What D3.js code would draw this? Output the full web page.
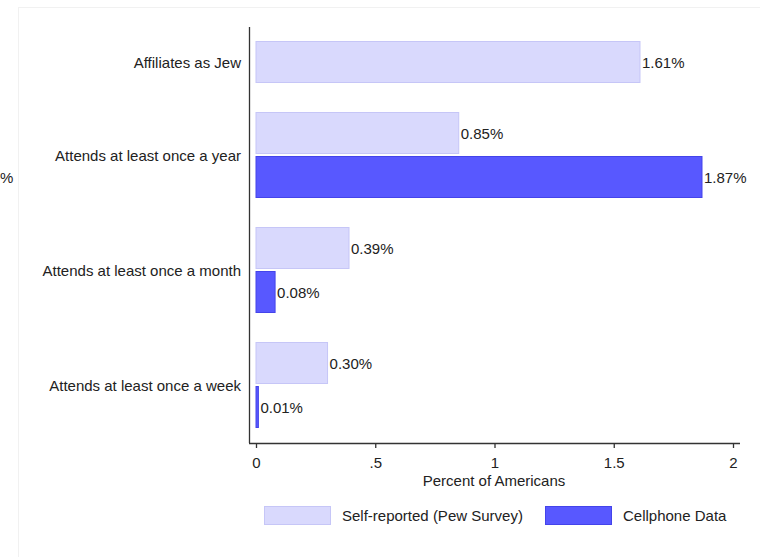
<!DOCTYPE html>
<html>
<head>
<meta charset="utf-8">
<script src="https://cdn.jsdelivr.net/npm/d3@7"></script>
<style>
  body { margin: 0; background: #fff; }
  svg text { font-family: "Liberation Sans", Arial, sans-serif; fill: #222; }
</style>
</head>
<body>
<div id="chart"></div>
<script>
// categories, top to bottom
var categories = ["Affiliates as Jew", "Attends at least once a year",
                  "Attends at least once a month", "Attends at least once a week"];
var seriesNames = ["Self-reported (Pew Survey)", "Cellphone Data"];
// null = no bar in that group
var pewValues = [1.61, 0.85, 0.39, 0.30];
var cellValues = [null, 1.87, 0.08, 0.01];
var xTicks = [0, 0.5, 1, 1.5, 2];
var xTickLabels = ["0", ".5", "1", "1.5", "2"];

var colors = { light: "#d9d9fd", lightStroke: "#c6c6f7", dark: "#5858ff", darkStroke: "#4444ea" };

var width = 760, height = 557;
var fs = "15px";

var svg = d3.select("#chart").append("svg")
    .attr("width", width)
    .attr("height", height);

// faint outer frame lines
svg.append("line").attr("x1", 18.5).attr("x2", 18.5).attr("y1", 7).attr("y2", height)
    .attr("stroke", "#f1f1f1");
svg.append("line").attr("x1", 18).attr("x2", width).attr("y1", 7.5).attr("y2", 7.5)
    .attr("stroke", "#f1f1f1");

// leftover text at left edge
svg.append("text").attr("x", 0).attr("y", 183)
    .style("font-size", fs).text("%");

// x scale
var x = d3.scaleLinear().domain([0, 2]).range([256, 733]);

// build bar rows: slot index within whole chart plus group gaps
var rows = [];
var slot = 0;
categories.forEach(function (c, i) {
    var vals = [pewValues[i], cellValues[i]];
    vals.forEach(function (v, s) {
        if (v === null) return;
        rows.push({ cat: c, group: i, series: s, value: v, slot: slot });
        slot++;
    });
});

var barH = 41;
var slotStep = 44;
var groupGap = 27;
function yTop(r) { return 41 + r.slot * slotStep + r.group * groupGap; }

// bars
svg.selectAll("rect.bar")
    .data(rows)
  .enter().append("rect")
    .attr("class", "bar")
    .attr("x", x(0))
    .attr("y", function (d) { return yTop(d) + 0.5; })
    .attr("width", function (d) { return Math.max(x(d.value) - x(0), 1.5); })
    .attr("height", barH)
    .attr("fill", function (d) { return d.series === 0 ? colors.light : colors.dark; })
    .attr("stroke", function (d) { return d.series === 0 ? colors.lightStroke : colors.darkStroke; })
    .attr("stroke-width", 1);

// value labels
svg.selectAll("text.val")
    .data(rows)
  .enter().append("text")
    .attr("class", "val")
    .attr("x", function (d) { return x(d.value) + 2; })
    .attr("y", function (d) { return yTop(d) + barH / 2 + 6; })
    .style("font-size", fs)
    .text(function (d) { return d.value.toFixed(2) + "%"; });

// category labels, centred on their group
categories.forEach(function (c, i) {
    var g = rows.filter(function (r) { return r.group === i; });
    var top = yTop(g[0]);
    var bottom = yTop(g[g.length - 1]) + barH;
    svg.append("text")
        .attr("x", 241)
        .attr("y", (top + bottom) / 2 + 6)
        .attr("text-anchor", "end")
        .style("font-size", fs)
        .text(c);
});

// y axis line
svg.append("line")
    .attr("x1", 249.5).attr("x2", 249.5)
    .attr("y1", 27).attr("y2", 443)
    .attr("stroke", "#333").attr("stroke-width", 1.3);

// x axis
var xaxis = d3.axisBottom(x)
    .tickValues(xTicks)
    .tickFormat(function (d, i) { return xTickLabels[i]; })
    .tickSize(5)
    .tickPadding(9);

var gx = svg.append("g")
    .attr("transform", "translate(0,443)")
    .call(xaxis);
gx.select(".domain").remove();
gx.selectAll(".tick line").attr("stroke", "#333").attr("stroke-width", 1.3);
gx.selectAll(".tick text").style("font-size", fs).attr("fill", "#222")
    .style("font-family", "Liberation Sans, Arial, sans-serif");
svg.append("line")
    .attr("x1", 249).attr("x2", 740)
    .attr("y1", 443.5).attr("y2", 443.5)
    .attr("stroke", "#333").attr("stroke-width", 1.3);

svg.append("text")
    .attr("x", 494).attr("y", 486)
    .attr("text-anchor", "middle")
    .style("font-size", fs)
    .text("Percent of Americans");

// legend
var legend = [
    { name: seriesNames[0], fill: colors.light, stroke: colors.lightStroke, x: 264 },
    { name: seriesNames[1], fill: colors.dark, stroke: colors.darkStroke, x: 545 }
];
legend.forEach(function (l) {
    svg.append("rect")
        .attr("x", l.x + 0.5).attr("y", 506.5)
        .attr("width", 66).attr("height", 18)
        .attr("fill", l.fill).attr("stroke", l.stroke);
    svg.append("text")
        .attr("x", l.x + 78).attr("y", 521)
        .style("font-size", fs)
        .text(l.name);
});
</script>
</body>
</html>
